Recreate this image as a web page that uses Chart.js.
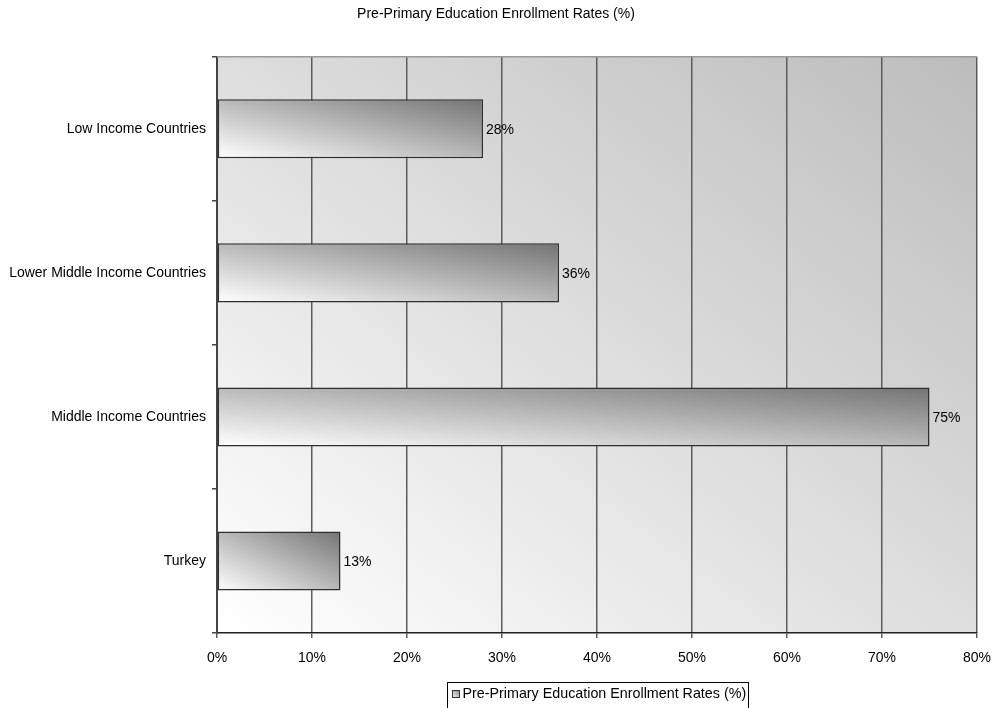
<!DOCTYPE html>
<html>
<head>
<meta charset="utf-8">
<script src="https://cdn.jsdelivr.net/npm/chart.js@4/dist/chart.umd.min.js"></script>
<style>
  html, body { margin: 0; padding: 0; background: #ffffff; }
  #wrap { width: 992px; height: 708px; }
</style>
</head>
<body>
<div id="wrap"><canvas id="chart" width="992" height="708"></canvas></div>
<script>
// Enrollment data
const categories = ['Low Income Countries', 'Lower Middle Income Countries', 'Middle Income Countries', 'Turkey'];
const enrollmentRates = [28, 36, 75, 13];
const seriesName = 'Pre-Primary Education Enrollment Rates (%)';
const chartTitle = 'Pre-Primary Education Enrollment Rates (%)';

const FONT = "'Liberation Sans', Arial, sans-serif";
const BAR_FRACTION = 0.41;

// Diagonal shading in box-normalised space: light at bottom-left, dark at top-right
function diagonalGradient(ctx, left, top, right, bottom, light, dark) {
  const w = Math.max(1, right - left), h = Math.max(1, bottom - top);
  const k = 2 * w * h / (w * w + h * h);
  const g = ctx.createLinearGradient(left, bottom, left + h * k, bottom - w * k);
  g.addColorStop(0, light);
  g.addColorStop(1, dark);
  return g;
}

function barFill(context) {
  const chart = context.chart;
  const area = chart.chartArea;
  if (!area || context.type !== 'data') return '#bbbbbb';
  const xs = chart.scales.x, ys = chart.scales.y;
  const v = context.parsed ? context.parsed.x : context.raw;
  const x0 = xs.getPixelForValue(0), x1 = xs.getPixelForValue(v);
  const band = (ys.bottom - ys.top) / categories.length;
  const half = band * BAR_FRACTION / 2;
  const yc = ys.getPixelForValue(context.dataIndex);
  return diagonalGradient(chart.ctx, x0, yc - half, x1, yc + half, '#ffffff', '#747474');
}

// Plot background, frame, value labels and the framed legend
const decorations = {
  id: 'decorations',
  beforeDraw(chart) {
    const { ctx, chartArea: a } = chart;
    ctx.save();
    ctx.fillStyle = diagonalGradient(ctx, a.left, a.top, a.right, a.bottom, '#ffffff', '#bcbcbc');
    ctx.fillRect(a.left, a.top, a.right - a.left, a.bottom - a.top);
    ctx.restore();
  },
  afterDatasetsDraw(chart) {
    const { ctx, chartArea: a } = chart;
    ctx.save();
    // top frame line
    ctx.strokeStyle = '#9a9a9a';
    ctx.lineWidth = 1.5;
    ctx.beginPath();
    ctx.moveTo(a.left, a.top);
    ctx.lineTo(a.right, a.top);
    ctx.stroke();
    // value labels
    const meta = chart.getDatasetMeta(0);
    ctx.fillStyle = '#000000';
    ctx.font = '14px ' + FONT;
    ctx.textAlign = 'left';
    ctx.textBaseline = 'middle';
    meta.data.forEach((bar, i) => {
      ctx.fillText(enrollmentRates[i] + '%', bar.x + 3, bar.y + 1);
    });
    ctx.restore();
  },
  afterDraw(chart) {
    const { ctx, chartArea: a } = chart;
    ctx.save();
    ctx.font = '14.3px ' + FONT;
    const textW = ctx.measureText(seriesName).width;
    const boxW = Math.round(textW + 17);
    const cx = (a.left + a.right) / 2;
    const left = Math.round(cx - boxW / 2) + 0.5;
    const top = a.bottom + 49.5;
    // frame
    ctx.strokeStyle = '#000000';
    ctx.lineWidth = 1;
    ctx.strokeRect(left, top, boxW, 40);
    // swatch
    const sx = left + 5, sy = top + 8;
    ctx.fillStyle = diagonalGradient(ctx, sx, sy, sx + 7, sy + 7, '#f4f4f4', '#8a8a8a');
    ctx.fillRect(sx, sy, 7, 7);
    ctx.strokeStyle = '#333333';
    ctx.strokeRect(sx, sy, 7, 7);
    // label
    ctx.fillStyle = '#000000';
    ctx.textAlign = 'left';
    ctx.textBaseline = 'middle';
    ctx.fillText(seriesName, sx + 10, top + 12);
    ctx.restore();
  }
};

new Chart(document.getElementById('chart'), {
  type: 'bar',
  data: {
    labels: categories,
    datasets: [{
      label: seriesName,
      data: enrollmentRates,
      backgroundColor: barFill,
      borderColor: '#2e2e2e',
      borderWidth: 1.5,
      borderSkipped: false,
      categoryPercentage: 1.0,
      barPercentage: BAR_FRACTION
    }]
  },
  options: {
    indexAxis: 'y',
    responsive: false,
    animation: false,
    layout: { padding: { left: 0, right: 0, top: 0, bottom: 35 } },
    plugins: {
      tooltip: { enabled: false },
      legend: { display: false },
      title: {
        display: true,
        text: chartTitle,
        color: '#000000',
        font: { family: FONT, size: 14, weight: 'normal' },
        padding: { top: 6, bottom: 34 }
      }
    },
    scales: {
      x: {
        min: 0,
        max: 80,
        afterFit: s => { s.height = 40; s.paddingRight = 15; s.paddingLeft = 0; },
        ticks: {
          stepSize: 10,
          color: '#000000',
          font: { family: FONT, size: 14 },
          padding: 12,
          callback: v => v + '%'
        },
        grid: { color: '#5c5c5c', lineWidth: 1.5, tickLength: 5, drawTicks: true },
        border: { display: true, color: '#222222', width: 1.5 }
      },
      y: {
        offset: true,
        afterFit: s => { s.width = 217; },
        ticks: {
          color: '#000000',
          font: { family: FONT, size: 14 },
          padding: 6
        },
        grid: { drawOnChartArea: false, drawTicks: true, tickLength: 5, offset: true, color: '#444444', lineWidth: 1.5 },
        border: { display: true, color: '#444444', width: 2 }
      }
    }
  },
  plugins: [decorations]
});
</script>
</body>
</html>
